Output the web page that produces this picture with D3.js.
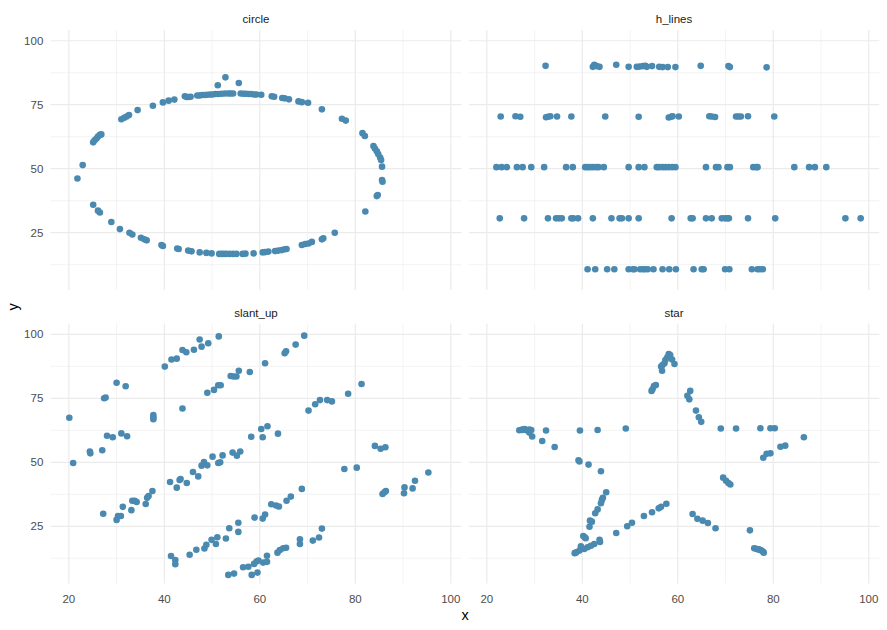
<!DOCTYPE html>
<html>
<head>
<meta charset="utf-8">
<script src="https://cdn.jsdelivr.net/npm/d3@7"></script>
<style>
  body { margin: 0; background: #fff; }
  text { font-family: "Liberation Sans", Arial, Helvetica, sans-serif; }
</style>
</head>
<body>
<div id="chart"></div>
<script>
var panelNames = ["circle", "h_lines", "slant_up", "star"]
var xTicks = [20, 40, 60, 80, 100]
var yTicks = [25, 50, 75, 100]
var xMinor = [30, 50, 70, 90]
var yMinor = [12.5, 37.5, 62.5, 87.5]

var circleX = [21.8,22.9,25.1,25.4,25.8,26.1,26.5,26.8,31.0,31.6,32.1,32.6,34.4,37.6,39.7,40.9,42.1,44.3,44.7,45.1,45.5,46.9,47.4,47.9,48.5,49.0,49.6,50.1,50.7,51.3,51.2,52.8,55.6,52.0,52.7,53.4,53.9,54.4,56.0,56.6,57.1,57.7,58.2,58.8,59.3,60.3,62.5,63.0,64.7,65.2,66.1,68.1,68.8,70.1,73.0,77.2,78.0,81.5,82.0,83.8,84.1,84.5,84.8,85.2,85.4,85.6,85.6,85.7,84.5,84.7,82.1,75.7,73.3,73.0,70.9,70.2,69.5,68.8,65.6,65.2,64.6,63.9,63.2,61.8,61.1,60.6,58.7,57.0,56.4,55.1,54.4,53.7,53.0,52.5,52.0,51.5,49.9,48.8,47.4,45.7,45.0,43.0,42.7,39.7,39.4,36.3,35.8,35.1,33.3,32.7,30.7,28.9,26.5,26.1,25.1]
var circleY = [46.2,51.4,60.3,61.1,61.8,62.6,63.2,63.4,69.3,69.9,70.4,71.0,72.9,74.6,75.9,76.6,77.0,78.3,78.0,78.0,78.1,78.6,78.6,78.8,78.8,78.9,79.0,79.0,79.2,79.2,82.6,85.7,83.5,79.3,79.4,79.4,79.4,79.4,79.4,79.3,79.3,79.2,79.2,79.0,79.0,78.9,78.3,78.1,77.6,77.5,77.1,76.3,76.0,75.8,73.2,69.5,68.8,63.9,62.8,58.9,57.9,56.8,55.7,54.4,53.4,50.8,45.6,44.9,39.3,39.7,33.3,25.0,22.8,22.4,21.4,20.8,20.6,20.2,18.6,18.5,18.2,18.0,17.8,17.6,17.4,17.3,16.9,16.8,16.7,16.7,16.7,16.7,16.7,16.7,16.7,16.7,16.9,17.1,17.3,17.7,18.0,18.6,18.8,19.8,20.2,22.0,22.4,23.0,24.3,25.0,26.4,29.2,32.9,33.6,35.9]

var hLinesX = [32.3,42.2,42.5,43.0,43.6,47.1,49.7,51.4,52.0,52.7,53.2,53.5,54.6,56.1,56.8,57.9,59.5,64.8,70.6,70.9,78.6,
  22.9,26.0,27.0,32.4,32.8,33.3,34.7,37.7,44.8,51.8,58.1,58.6,58.9,60.2,66.6,67.1,67.8,72.2,72.7,73.2,74.7,80.2,
  22.0,23.1,24.2,26.3,27.5,29.3,32.0,36.6,38.0,40.6,41.1,41.6,42.2,42.9,43.4,44.5,49.7,51.8,53.0,55.6,56.1,56.8,57.4,58.1,58.8,59.5,65.9,68.0,68.5,70.4,70.9,75.8,76.4,76.7,84.4,87.5,88.7,91.1,
  22.7,27.8,32.8,34.5,35.1,35.7,37.7,38.1,39.1,42.2,46.1,47.8,48.3,49.7,51.8,58.7,62.7,63.1,65.9,67.1,69.2,69.9,70.4,70.7,74.7,80.4,95.1,98.3,
  41.1,42.7,45.2,46.7,49.7,50.6,50.9,52.1,52.7,53.1,53.7,54.9,56.8,58.2,59.6,63.3,65.0,65.4,69.9,70.8,75.5,76.7,77.2,77.8]
var hLinesY = [90.2,89.8,90.6,90.1,89.8,90.6,89.8,89.8,89.9,90.1,90.2,89.8,90.1,89.8,89.7,89.7,89.7,90.2,90.1,89.7,89.6,
  70.4,70.5,70.3,70.1,70.3,70.5,70.4,70.4,70.4,70.3,70.0,70.3,70.5,70.4,70.5,70.4,70.2,70.4,70.4,70.4,70.5,70.4,
  50.6,50.6,50.6,50.6,50.6,50.6,50.6,50.6,50.6,50.6,50.6,50.6,50.6,50.6,50.6,50.6,50.6,50.6,50.6,50.6,50.6,50.6,50.6,50.6,50.6,50.6,50.6,50.6,50.6,50.6,50.6,50.6,50.6,50.6,50.6,50.6,50.6,50.6,
  30.6,30.6,30.6,30.6,30.6,30.6,30.6,30.6,30.6,30.6,30.6,30.6,30.6,30.6,30.6,30.6,30.6,30.6,30.6,30.6,30.6,30.6,30.6,30.6,30.6,30.6,30.6,30.6,
  10.7,10.7,10.7,10.7,10.7,10.7,10.7,10.7,10.7,10.7,10.7,10.7,10.7,10.7,10.7,10.7,10.7,10.7,10.7,10.7,10.7,10.7,10.7,10.7]

var slantX = [40.1,41.5,42.6,43.8,44.6,46.2,47.4,47.8,49.2,51.4,61.1,65.2,65.5,67.5,69.3,49.0,50.4,51.3,51.8,53.9,54.5,55.1,55.6,57.9,30.0,31.9,27.4,27.7,20.1,37.7,37.7,37.7,43.8,20.9,24.4,24.5,27.0,28.0,29.2,31.0,32.2,58.2,60.3,60.6,61.6,63.8,70.2,71.6,72.6,74.1,75.1,78.5,81.3,84.1,85.3,86.3,77.7,80.3,85.7,86.1,86.4,90.2,90.3,92.0,92.5,95.3,41.2,42.6,43.2,43.4,44.7,46.0,47.1,47.8,48.3,49.0,50.1,51.3,51.7,52.2,54.3,55.2,55.9,27.2,30.0,30.3,30.9,31.3,33.1,33.3,33.8,34.2,36.1,36.4,36.7,37.5,41.4,42.3,42.3,45.3,46.7,48.4,48.8,49.9,50.8,51.1,52.9,53.6,55.5,55.5,58.9,60.6,61.1,62.4,63.4,64.0,65.6,66.5,68.8,53.4,54.6,56.5,57.6,58.3,59.5,58.8,59.3,59.7,60.7,61.5,61.5,63.7,64.2,64.9,65.5,68.4,68.4,71.1,72.4,73.0]
var slantY = [87.4,90.2,90.5,93.9,93.0,94.0,98.0,95.2,96.5,99.2,88.7,92.6,93.4,96.0,99.5,77.2,78.3,80.1,80.1,83.7,83.5,83.5,85.8,85.3,81.1,79.7,75.0,75.3,67.4,68.5,67.6,66.8,71.0,49.7,54.2,53.5,54.7,60.4,59.8,61.3,60.2,60.0,63.0,59.8,64.1,61.2,70.2,72.7,74.3,74.3,73.8,76.8,80.6,56.4,55.3,55.9,47.4,47.9,37.6,38.3,38.8,37.9,40.2,39.8,42.8,46.0,42.3,40.1,43.1,43.5,41.9,46.2,44.5,48.7,50.1,48.8,52.2,49.7,50.0,52.7,53.8,52.6,54.2,29.9,27.5,29.0,29.0,32.6,31.3,35.0,35.0,34.5,33.7,36.1,36.8,38.8,13.4,11.8,10.2,13.9,15.8,16.3,17.8,19.7,18.1,20.7,20.2,24.2,22.8,26.4,28.4,28.0,29.6,33.6,33.1,32.7,35.0,36.6,39.6,6.0,6.5,9.0,9.2,6.0,6.9,10.3,11.2,11.6,10.8,11.1,13.5,14.7,15.7,16.4,16.6,19.9,18.1,19.4,20.6,24.1]

var starX = [54.5,54.7,55.0,55.4,56.5,56.7,56.8,57.2,57.4,57.8,58.1,58.4,58.8,59.3,26.8,27.4,27.9,28.4,28.9,29.3,28.9,29.5,27.4,28.2,32.4,31.6,34.2,39.5,43.2,49.1,39.2,39.4,41.3,43.9,45.0,44.3,44.1,43.9,43.2,42.7,41.6,42.0,41.5,40.2,40.5,40.7,43.6,43.7,42.5,41.8,41.1,40.4,39.7,39.4,38.7,38.4,47.1,49.4,50.4,52.9,54.6,56.0,56.5,57.6,62.6,62.0,62.4,63.8,64.4,64.9,69.0,72.2,77.3,79.4,80.3,86.4,81.5,82.5,77.9,78.6,79.4,69.5,70.1,70.6,71.0,63.1,64.1,65.2,66.3,67.9,75.1,76.0,76.4,76.7,77.0,77.2,77.5,77.8,78.0]
var starY = [77.9,78.5,79.8,80.2,87.4,85.8,88.0,88.7,90.0,91.0,92.3,91.9,90.2,88.4,62.5,62.8,63.0,62.5,62.8,62.6,61.6,60.1,62.6,62.6,62.4,58.3,56.0,62.4,62.6,63.2,50.8,50.3,49.1,46.5,38.3,36.1,35.3,34.0,31.6,30.1,27.2,26.8,24.8,21.2,20.7,20.3,19.7,18.9,18.1,17.4,16.8,16.1,17.2,15.5,14.8,14.5,22.4,25.0,26.4,29.0,30.5,32.0,32.6,33.8,77.9,76.0,74.6,70.2,67.6,65.8,63.2,63.2,63.3,63.3,63.3,59.8,56.1,56.5,51.8,53.3,53.5,44.0,42.8,41.9,41.3,29.8,27.9,27.2,26.3,24.2,23.4,16.4,16.2,16.0,15.9,15.8,15.5,15.1,14.7]

var datasets = [
  { name: panelNames[0], xs: circleX, ys: circleY },
  { name: panelNames[1], xs: hLinesX, ys: hLinesY },
  { name: panelNames[2], xs: slantX, ys: slantY },
  { name: panelNames[3], xs: starX, ys: starY }
]

var width = 887, height = 630
var panelW = 410.6, panelH = 260
var panelLeft = [50.7, 468.7]
var panelTop = [30, 323.6]
var pointColor = "#4a89b0"

var x = d3.scaleLinear().domain([16.2, 102.2]).range([0, panelW])
var y = d3.scaleLinear().domain([2.6, 104.2]).range([panelH, 0])

var svg = d3.select("#chart")
  .append("svg")
  .attr("width", width)
  .attr("height", height)

function draw_panel(d, i) {
  var col = i % 2, row = Math.floor(i / 2)
  var g = svg.append("g")
    .attr("transform", "translate(" + panelLeft[col] + "," + panelTop[row] + ")")

  // minor grid
  g.selectAll(".xminor").data(xMinor).enter().append("line")
    .attr("x1", v => x(v)).attr("x2", v => x(v))
    .attr("y1", 0).attr("y2", panelH)
    .attr("stroke", "#ebebeb").attr("stroke-width", 0.6)
  g.selectAll(".yminor").data(yMinor).enter().append("line")
    .attr("y1", v => y(v)).attr("y2", v => y(v))
    .attr("x1", 0).attr("x2", panelW)
    .attr("stroke", "#ebebeb").attr("stroke-width", 0.6)

  // major grid
  g.selectAll(".xmajor").data(xTicks).enter().append("line")
    .attr("x1", v => x(v)).attr("x2", v => x(v))
    .attr("y1", 0).attr("y2", panelH)
    .attr("stroke", "#ebebeb").attr("stroke-width", 1.2)
  g.selectAll(".ymajor").data(yTicks).enter().append("line")
    .attr("y1", v => y(v)).attr("y2", v => y(v))
    .attr("x1", 0).attr("x2", panelW)
    .attr("stroke", "#ebebeb").attr("stroke-width", 1.2)

  // strip
  g.append("text")
    .attr("x", panelW / 2)
    .attr("y", -7)
    .attr("text-anchor", "middle")
    .attr("font-size", "11.5px")
    .attr("fill", "#1a1a1a")
    .text(d.name)

  // points
  g.selectAll(".dot").data(d.xs).enter().append("circle")
    .attr("cx", (v) => x(v))
    .attr("cy", (v, j) => y(d.ys[j]))
    .attr("r", 3.3)
    .attr("fill", pointColor)

  // axes
  if (col == 0) {
    g.selectAll(".ylab").data(yTicks).enter().append("text")
      .attr("x", -7.4)
      .attr("y", v => y(v))
      .attr("dy", "0.35em")
      .attr("text-anchor", "end")
      .attr("font-size", "11.5px")
      .attr("fill", "#4d4d4d")
      .text(v => v)
  }
  if (row == 1) {
    g.selectAll(".xlab").data(xTicks).enter().append("text")
      .attr("x", v => x(v))
      .attr("y", panelH + 19)
      .attr("text-anchor", "middle")
      .attr("font-size", "11.5px")
      .attr("fill", "#4d4d4d")
      .text(v => v)
  }
}

datasets.forEach(draw_panel)

svg.append("text")
  .attr("x", (panelLeft[0] + panelLeft[1] + panelW) / 2)
  .attr("y", 620)
  .attr("text-anchor", "middle")
  .attr("font-size", "14.5px")
  .attr("fill", "#000")
  .text("x")

svg.append("text")
  .attr("transform", "translate(18," + ((panelTop[0] + panelTop[1] + panelH) / 2) + ") rotate(-90)")
  .attr("text-anchor", "middle")
  .attr("font-size", "14.5px")
  .attr("fill", "#000")
  .text("y")
</script>
</body>
</html>
